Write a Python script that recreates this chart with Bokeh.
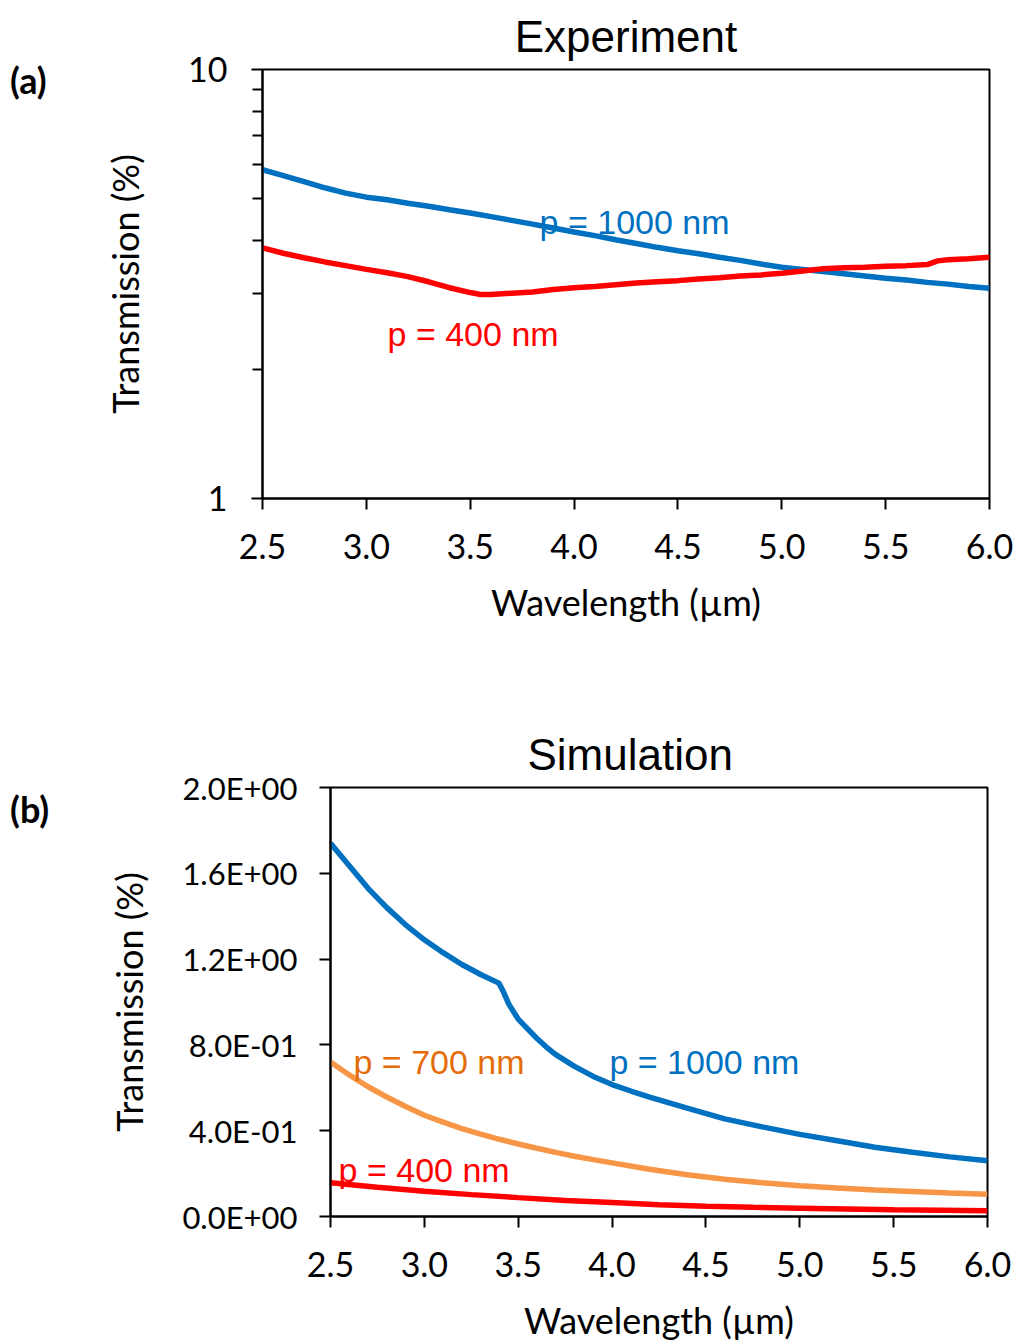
from bokeh.plotting import figure
from bokeh.layouts import row
from bokeh.models import (FixedTicker, PrintfTickFormatter, BasicTickFormatter,
                          CustomJSTickFormatter, Range1d, Label, Div)
from bokeh.embed import file_html
from bokeh.resources import INLINE

# ---------------- data ----------------
# (a) Experiment
exp_wl_1000 = [2.5, 2.6, 2.7, 2.8, 2.9, 3.0, 3.1, 3.2, 3.3, 3.4, 3.5, 3.6, 3.7, 3.8, 3.9,
               4.0, 4.1, 4.2, 4.3, 4.4, 4.5, 4.6, 4.7, 4.8, 4.9, 5.0, 5.1, 5.2, 5.3, 5.4,
               5.5, 5.6, 5.7, 5.8, 5.9, 6.0]
exp_T_1000 = [5.84, 5.66, 5.48, 5.30, 5.15, 5.04, 4.97, 4.88, 4.80, 4.71, 4.63, 4.54, 4.45,
              4.36, 4.27, 4.18, 4.10, 4.01, 3.93, 3.85, 3.78, 3.72, 3.65, 3.59, 3.52, 3.46,
              3.42, 3.38, 3.34, 3.30, 3.26, 3.23, 3.19, 3.16, 3.12, 3.09]
exp_wl_400 = [2.5, 2.6, 2.7, 2.8, 2.9, 3.0, 3.1, 3.2, 3.3, 3.4, 3.5, 3.55, 3.6, 3.7, 3.8,
              3.9, 4.0, 4.1, 4.2, 4.3, 4.4, 4.5, 4.6, 4.7, 4.8, 4.9, 5.0, 5.1, 5.2, 5.3,
              5.4, 5.5, 5.6, 5.7, 5.75, 5.8, 5.9, 6.0]
exp_T_400 = [3.84, 3.73, 3.64, 3.56, 3.49, 3.42, 3.36, 3.29, 3.20, 3.10, 3.02, 2.99, 2.99,
             3.01, 3.03, 3.07, 3.10, 3.12, 3.15, 3.18, 3.20, 3.22, 3.25, 3.27, 3.30, 3.32,
             3.35, 3.39, 3.43, 3.45, 3.46, 3.48, 3.49, 3.51, 3.58, 3.60, 3.62, 3.65]

# (b) Simulation
sim_wl_1000 = [2.5, 2.6, 2.7, 2.8, 2.9, 3.0, 3.1, 3.2, 3.3, 3.397, 3.42, 3.45, 3.5, 3.55,
               3.6, 3.65, 3.7, 3.8, 3.9, 4.0, 4.1, 4.2, 4.4, 4.6, 4.8, 5.0, 5.2, 5.4, 5.6,
               5.8, 6.0]
sim_T_1000 = [1.74, 1.635, 1.53, 1.44, 1.36, 1.29, 1.23, 1.175, 1.128, 1.088, 1.05, 0.99,
              0.92, 0.875, 0.83, 0.79, 0.755, 0.70, 0.653, 0.615, 0.585, 0.557, 0.505,
              0.455, 0.418, 0.383, 0.353, 0.323, 0.30, 0.278, 0.26]
sim_wl_700 = [2.5, 2.6, 2.7, 2.8, 2.9, 3.0, 3.1, 3.2, 3.3, 3.4, 3.5, 3.6, 3.7, 3.8, 3.9,
              4.0, 4.2, 4.4, 4.6, 4.8, 5.0, 5.2, 5.4, 5.6, 5.8, 6.0]
sim_T_700 = [0.72, 0.66, 0.605, 0.557, 0.513, 0.472, 0.44, 0.41, 0.384, 0.36, 0.338,
             0.318, 0.299, 0.281, 0.265, 0.25, 0.22, 0.195, 0.174, 0.157, 0.143, 0.133,
             0.124, 0.117, 0.110, 0.104]
sim_wl_400 = [2.5, 2.75, 3.0, 3.25, 3.5, 3.75, 4.0, 4.25, 4.5, 4.75, 5.0, 5.25, 5.5, 5.75, 6.0]
sim_T_400 = [0.157, 0.136, 0.118, 0.102, 0.088, 0.075, 0.065, 0.055, 0.048, 0.043, 0.039,
             0.035, 0.031, 0.029, 0.027]

x_ticks = [2.5, 3.0, 3.5, 4.0, 4.5, 5.0, 5.5, 6.0]
exp_y_major = [1, 10]
exp_y_minor = [2, 3, 4, 5, 6, 7, 8, 9]
sim_y_ticks = [0.0, 0.4, 0.8, 1.2, 1.6, 2.0]

BLUE = "#0070C0"
RED = "#FF0000"
ORANGE = "#F79646"
ORANGE_TXT = "#E46C0A"
TICK_FONT = "Lato"
LBL_FONT = "Liberation Sans"
LW = 5.5


def style(p):
    p.title.text_font = LBL_FONT
    p.title.text_font_size = "44px"
    p.title.text_font_style = "normal"
    p.title.text_color = "black"
    p.title.standoff = 18
    p.outline_line_color = "black"
    p.outline_line_width = 2
    p.xgrid.visible = False
    p.ygrid.visible = False
    for ax in (p.xaxis[0], p.yaxis[0]):
        ax.axis_line_width = 2
        ax.axis_line_color = "black"
        ax.major_tick_line_width = 2
        ax.minor_tick_line_width = 2
        ax.major_tick_in = 0
        ax.major_tick_out = 11
        ax.minor_tick_in = 0
        ax.minor_tick_out = 10
        ax.major_label_text_font = TICK_FONT
        ax.major_label_text_font_size = "34px"
        ax.major_label_text_color = "black"
        ax.axis_label_text_font = TICK_FONT
        ax.axis_label_text_font_size = "36px"
        ax.axis_label_text_font_style = "normal"
        ax.axis_label_text_color = "black"
    p.xaxis.ticker = FixedTicker(ticks=x_ticks, minor_ticks=[])
    p.xaxis.formatter = PrintfTickFormatter(format="%.1f")
    p.xaxis.axis_label = "Wavelength (µm)"
    p.yaxis.axis_label = "Transmission (%)"
    p.xaxis.major_label_standoff = 24
    p.xaxis.axis_label_standoff = 18


def panel_tag(txt, h, top_pad):
    return Div(text=txt, width=100, height=h, margin=0,
               styles={"font-family": "Lato", "font-weight": "bold",
                       "font-size": "36px", "color": "black",
                       "padding-left": "10px", "padding-top": f"{top_pad}px",
                       "box-sizing": "border-box", "line-height": "1"})


# ---------------- (a) ----------------
p1 = figure(frame_width=727, frame_height=429, y_axis_type="log",
            x_range=Range1d(2.5, 6.0), y_range=Range1d(1, 10),
            min_border_left=160, min_border_right=29, min_border_top=68,
            min_border_bottom=183, title="Experiment", margin=0,
            output_backend="svg", toolbar_location=None)
style(p1)
p1.title.align = "center"
p1.yaxis.ticker = FixedTicker(ticks=exp_y_major, minor_ticks=exp_y_minor)
p1.yaxis.formatter = BasicTickFormatter()
p1.yaxis.major_label_standoff = 24
p1.yaxis.axis_label_standoff = 38

p1.line(exp_wl_1000, exp_T_1000, line_color=BLUE, line_width=LW)
p1.line(exp_wl_400, exp_T_400, line_color=RED, line_width=LW)

p1.add_layout(Label(x=3.834, y=4.40, text="p = 1000 nm", text_color=BLUE,
                    text_font=LBL_FONT, text_font_size="34px",
                    text_baseline="alphabetic"))
p1.add_layout(Label(x=3.102, y=2.424, text="p = 400 nm", text_color=RED,
                    text_font=LBL_FONT, text_font_size="34px",
                    text_baseline="alphabetic"))

# ---------------- (b) ----------------
p2 = figure(frame_width=657, frame_height=429,
            x_range=Range1d(2.5, 6.0), y_range=Range1d(0, 2.0),
            min_border_left=230, min_border_right=29, min_border_top=106,
            min_border_bottom=127, title="Simulation", margin=0,
            output_backend="svg", toolbar_location=None)
style(p2)
p2.title.align = "left"
p2.title.offset = 197
p2.yaxis.ticker = FixedTicker(ticks=sim_y_ticks, minor_ticks=[])
p2.yaxis.formatter = CustomJSTickFormatter(code="""
    const e = tick === 0 ? 0 : Math.floor(Math.log10(Math.abs(tick)) + 1e-9);
    const m = tick / Math.pow(10, e);
    const s = e < 0 ? '-' : '+';
    const a = Math.abs(e);
    return m.toFixed(1) + 'E' + s + (a < 10 ? '0' : '') + a;
""")
p2.yaxis.major_label_text_font_size = "31px"
p2.yaxis.major_label_standoff = 22
p2.yaxis.axis_label_standoff = 28

p2.line(sim_wl_1000, sim_T_1000, line_color=BLUE, line_width=LW)
p2.line(sim_wl_700, sim_T_700, line_color=ORANGE, line_width=LW)
p2.line(sim_wl_400, sim_T_400, line_color=RED, line_width=LW)

p2.add_layout(Label(x=2.6225, y=0.7226, text="p = 700 nm", text_color=ORANGE_TXT,
                    text_font=LBL_FONT, text_font_size="34px",
                    text_baseline="alphabetic"))
p2.add_layout(Label(x=3.986, y=0.7226, text="p = 1000 nm", text_color=BLUE,
                    text_font=LBL_FONT, text_font_size="34px",
                    text_baseline="alphabetic"))
p2.add_layout(Label(x=2.543, y=0.2177, text="p = 400 nm", text_color=RED,
                    text_font=LBL_FONT, text_font_size="34px",
                    text_baseline="alphabetic"))

top = row(panel_tag("(a)", 680, 62), p1, spacing=0, margin=0)
bottom = row(panel_tag("(b)", 662, 110), p2, spacing=0, margin=0)
open("out.html", "w").write(file_html([top, bottom], INLINE))
